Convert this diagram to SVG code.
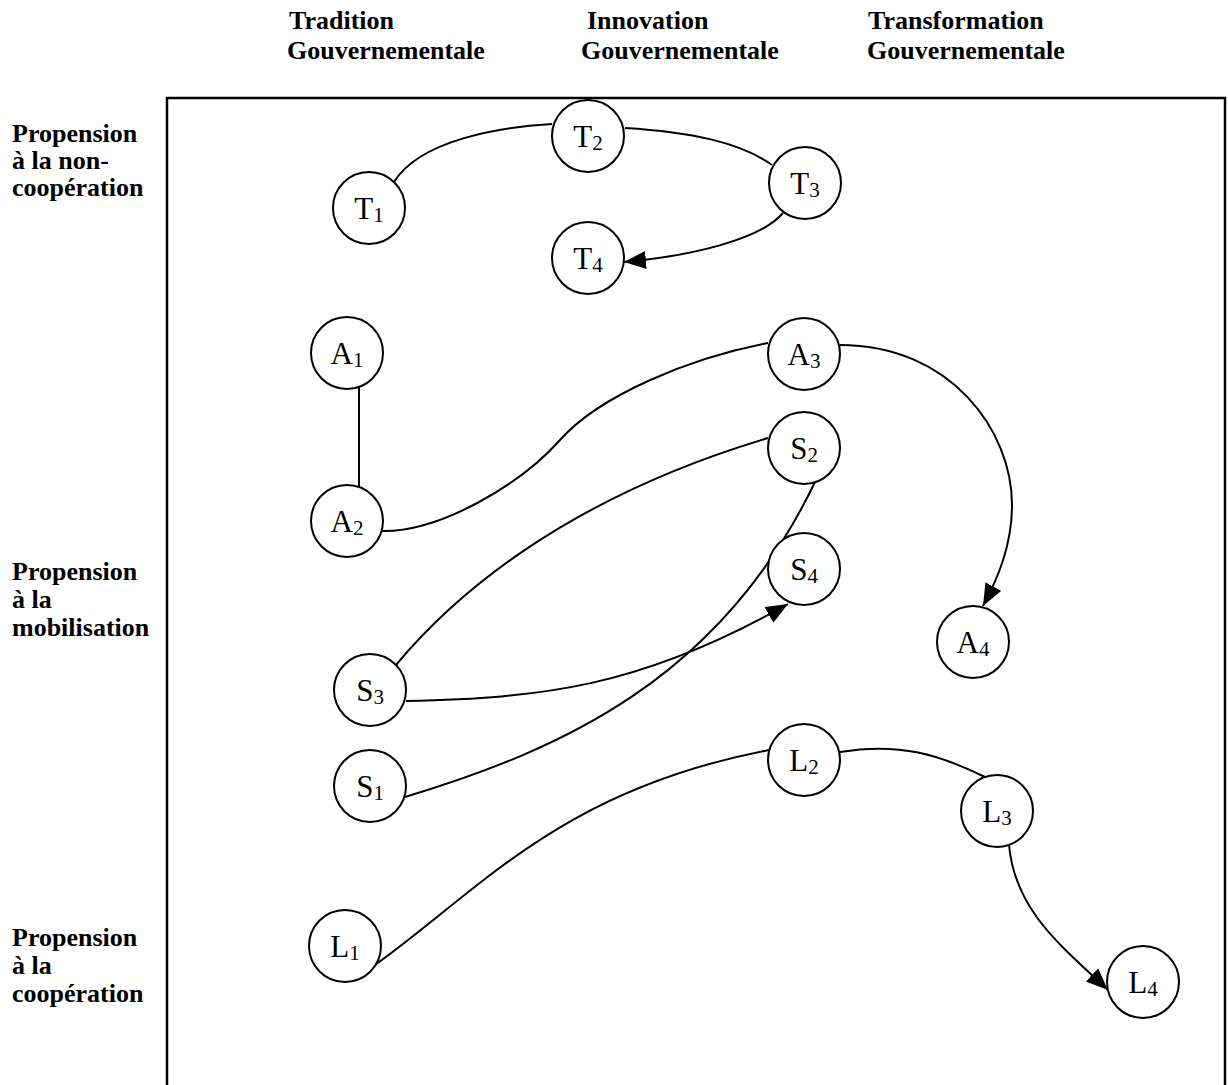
<svg xmlns="http://www.w3.org/2000/svg" width="1228" height="1085" viewBox="0 0 1228 1085">
<style>
.lbl{font-family:"Liberation Serif","Times New Roman",serif;font-weight:bold;font-size:26px;fill:#000}
.node circle{fill:#fff;stroke:#000;stroke-width:2}
.node text{font-family:"Liberation Serif","Times New Roman",serif;font-size:31px;fill:#000;text-anchor:middle}
.node tspan.sub{font-size:21px}
.edge{fill:none;stroke:#000;stroke-width:2}
</style>
<defs>
<marker id="arr" markerUnits="userSpaceOnUse" markerWidth="24" markerHeight="20" refX="22" refY="9" orient="auto">
<path d="M0,0 L22,9 L0,18 z" fill="#000"/>
</marker>
</defs>
<rect width="1228" height="1085" fill="#fff"/>
<g id="headers">
<text class="lbl" x="289" y="29">Tradition</text>
<text class="lbl" x="287" y="59">Gouvernementale</text>
<text class="lbl" x="587" y="29">Innovation</text>
<text class="lbl" x="581" y="59">Gouvernementale</text>
<text class="lbl" x="868" y="29">Transformation</text>
<text class="lbl" x="867" y="59">Gouvernementale</text>
</g>
<g id="row-labels">
<text class="lbl" x="12" y="142">Propension</text>
<text class="lbl" x="12" y="169">à la non-</text>
<text class="lbl" x="12" y="196">coopération</text>
<text class="lbl" x="12" y="580">Propension</text>
<text class="lbl" x="12" y="608">à la</text>
<text class="lbl" x="12" y="636">mobilisation</text>
<text class="lbl" x="12" y="946">Propension</text>
<text class="lbl" x="12" y="974">à la</text>
<text class="lbl" x="12" y="1002">coopération</text>
</g>
<path id="frame" d="M167,1085 V98 H1225 V1085" fill="none" stroke="#000" stroke-width="2.5"/>
<g id="connectors">
<path class="edge" d="M394,182 C420,140 500,127 552,124"/>
<path class="edge" d="M625,128 C690,132 740,142 772,165"/>
<path class="edge" d="M783,213 C760,240 690,256 624,262" marker-end="url(#arr)"/>
<path class="edge" d="M359,387 V487"/>
<path class="edge" d="M382,531 C440,532 520,485 560,440 C600,395 690,358 768,343"/>
<path class="edge" d="M840,345 C950,345 1012,430 1012,505 C1012,545 998,578 983,606" marker-end="url(#arr)"/>
<path class="edge" d="M396,665 C450,600 560,500 768,438"/>
<path class="edge" d="M406,701 C540,698 640,688 788,604" marker-end="url(#arr)"/>
<path class="edge" d="M405,797 C560,750 720,680 815,482"/>
<path class="edge" d="M375,965 C480,890 560,790 769,750"/>
<path class="edge" d="M840,752 C900,742 940,755 985,777"/>
<path class="edge" d="M1009,845 C1015,910 1060,945 1108,990" marker-end="url(#arr)"/>
</g>
<g id="T1" class="node"><circle cx="369" cy="208" r="36"/><text x="369" y="219">T<tspan class="sub" dy="3">1</tspan></text></g>
<g id="T2" class="node"><circle cx="588" cy="136" r="36"/><text x="588" y="147">T<tspan class="sub" dy="3">2</tspan></text></g>
<g id="T3" class="node"><circle cx="805" cy="183" r="36"/><text x="805" y="194">T<tspan class="sub" dy="3">3</tspan></text></g>
<g id="T4" class="node"><circle cx="588" cy="258" r="36"/><text x="588" y="269">T<tspan class="sub" dy="3">4</tspan></text></g>
<g id="A1" class="node"><circle cx="347" cy="353" r="36"/><text x="347" y="364">A<tspan class="sub" dy="3">1</tspan></text></g>
<g id="A2" class="node"><circle cx="347" cy="521" r="36"/><text x="347" y="532">A<tspan class="sub" dy="3">2</tspan></text></g>
<g id="A3" class="node"><circle cx="804" cy="354" r="36"/><text x="804" y="365">A<tspan class="sub" dy="3">3</tspan></text></g>
<g id="A4" class="node"><circle cx="973" cy="642" r="36"/><text x="973" y="653">A<tspan class="sub" dy="3">4</tspan></text></g>
<g id="S2" class="node"><circle cx="804" cy="448" r="36"/><text x="804" y="459">S<tspan class="sub" dy="3">2</tspan></text></g>
<g id="S4" class="node"><circle cx="804" cy="569" r="36"/><text x="804" y="580">S<tspan class="sub" dy="3">4</tspan></text></g>
<g id="S3" class="node"><circle cx="370" cy="690" r="36"/><text x="370" y="701">S<tspan class="sub" dy="3">3</tspan></text></g>
<g id="S1" class="node"><circle cx="370" cy="786" r="36"/><text x="370" y="797">S<tspan class="sub" dy="3">1</tspan></text></g>
<g id="L2" class="node"><circle cx="804" cy="760" r="36"/><text x="804" y="771">L<tspan class="sub" dy="3">2</tspan></text></g>
<g id="L3" class="node"><circle cx="997" cy="811" r="36"/><text x="997" y="822">L<tspan class="sub" dy="3">3</tspan></text></g>
<g id="L4" class="node"><circle cx="1143" cy="982" r="36"/><text x="1143" y="993">L<tspan class="sub" dy="3">4</tspan></text></g>
<g id="L1" class="node"><circle cx="345" cy="946" r="36"/><text x="345" y="957">L<tspan class="sub" dy="3">1</tspan></text></g>
</svg>
